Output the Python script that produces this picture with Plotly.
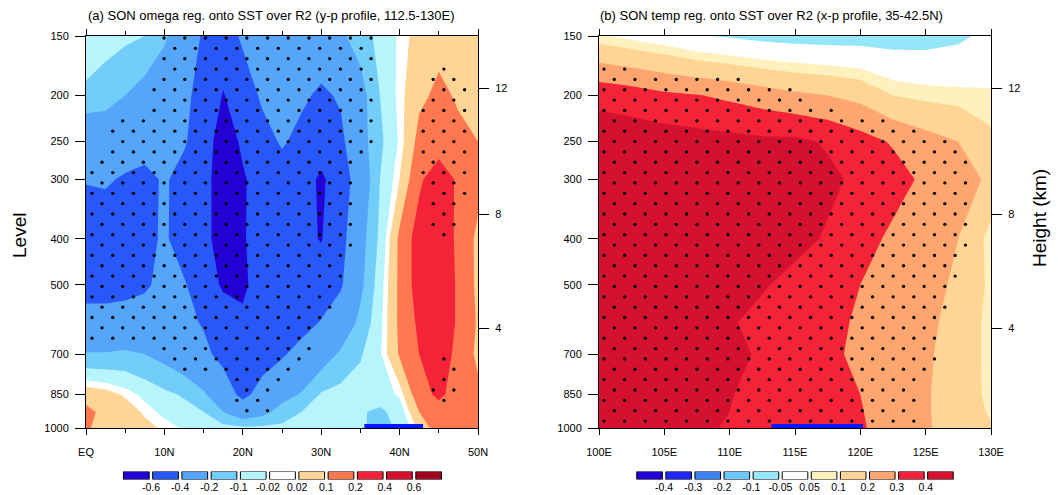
import numpy as np
import plotly.graph_objects as go

W, H = 1058, 495

# ---------------- data ----------------
pres = [1000, 925, 850, 700, 600, 500, 400, 300, 250, 200, 150]
lat = [0, 2.5, 5, 7.5, 10, 12.5, 15, 17.5, 20, 22.5, 25, 27.5, 30, 32.5, 35, 37.5, 40, 42.5, 45, 47.5, 50]
lon = [100, 102.5, 105, 107.5, 110, 112.5, 115, 117.5, 120, 122.5, 125, 127.5, 130]

# (a) omega regression, one list per level (EQ -> 50N)
om_1000 = [0.11, 0.07, 0.05, 0.04, 0.01, -0.03, -0.05, -0.07, -0.08, -0.08, -0.08, -0.08, -0.08, -0.08, -0.09, -0.12, -0.09, 0.04, 0.15, 0.15, 0.14]
om_925 = [0.12, 0.08, 0.06, 0.01, -0.04, -0.07, -0.10, -0.20, -0.30, -0.24, -0.15, -0.10, -0.08, -0.08, -0.09, -0.12, -0.06, 0.10, 0.16, 0.15, 0.13]
om_850 = [0.07, 0.05, 0.01, -0.04, -0.08, -0.11, -0.18, -0.32, -0.44, -0.34, -0.25, -0.19, -0.09, -0.07, -0.06, -0.05, -0.01, 0.16, 0.22, 0.16, 0.12]
om_700 = [-0.19, -0.19, -0.18, -0.20, -0.24, -0.30, -0.37, -0.44, -0.50, -0.47, -0.42, -0.34, -0.27, -0.18, -0.11, -0.03, 0.11, 0.20, 0.26, 0.17, 0.08]
om_600 = [-0.35, -0.34, -0.33, -0.33, -0.34, -0.37, -0.41, -0.52, -0.58, -0.55, -0.52, -0.46, -0.39, -0.30, -0.17, -0.04, 0.12, 0.22, 0.30, 0.18, 0.09]
om_500 = [-0.45, -0.46, -0.45, -0.42, -0.36, -0.38, -0.52, -0.62, -0.62, -0.55, -0.52, -0.50, -0.50, -0.42, -0.23, -0.05, 0.12, 0.25, 0.30, 0.18, 0.08]
om_400 = [-0.50, -0.50, -0.48, -0.46, -0.37, -0.50, -0.52, -0.72, -0.61, -0.55, -0.52, -0.55, -0.61, -0.46, -0.25, -0.08, 0.12, 0.25, 0.30, 0.17, 0.08]
om_300 = [-0.39, -0.38, -0.42, -0.45, -0.38, -0.46, -0.52, -0.72, -0.62, -0.52, -0.48, -0.52, -0.63, -0.50, -0.30, -0.10, 0.02, 0.18, 0.27, 0.18, 0.13]
om_250 = [-0.34, -0.32, -0.30, -0.32, -0.34, -0.38, -0.50, -0.70, -0.57, -0.47, -0.38, -0.45, -0.50, -0.44, -0.25, -0.12, -0.01, 0.13, 0.14, 0.12, 0.10]
om_200 = [-0.11, -0.14, -0.20, -0.25, -0.30, -0.37, -0.45, -0.61, -0.50, -0.37, -0.34, -0.37, -0.43, -0.38, -0.25, -0.10, 0.00, 0.08, 0.12, 0.09, 0.07]
om_150 = [-0.07, -0.07, -0.08, -0.10, -0.18, -0.30, -0.42, -0.50, -0.37, -0.32, -0.30, -0.30, -0.28, -0.22, -0.15, -0.07, -0.01, 0.05, 0.07, 0.07, 0.06]

# (a) significance (fraction, stippled where > 0.5)
sa_1000 = [1, 0, 0, 0, 0, 0, 0, 0, 0, 0, 0, 0, 0, 0, 0, 0, 0, 0, 0, 0, 0]
sa_925 = [0.3, 0, 0, 0, 0, 0, 0, 0.2, 0.7, 0.7, 0, 0, 0, 0, 0, 0, 0, 0, 0.3, 0.1, 0]
sa_850 = [0, 0, 0, 0, 0, 0, 0, 0.3, 1, 1, 0.1, 0, 0, 0, 0, 0, 0, 0, 0.9, 0.75, 0]
sa_700 = [0, 0, 0.1, 0.3, 0.6, 0.8, 1, 1, 1, 1, 1, 0.8, 0, 0, 0, 0, 0, 0, 0.5, 0.6, 0]
sa_600 = [1, 1, 1, 1, 1, 1, 1, 1, 1, 1, 1, 1, 0.7, 0, 0, 0, 0, 0, 0, 0, 0]
sa_500 = [1, 1, 1, 1, 1, 1, 1, 1, 1, 1, 1, 1, 1, 0.4, 0, 0, 0, 0, 0, 0, 0]
sa_400 = [1, 1, 1, 1, 1, 1, 1, 1, 1, 1, 1, 1, 1, 1, 0.2, 0, 0, 0.2, 0.6, 0.5, 0]
sa_300 = [0.7, 1, 1, 1, 1, 1, 1, 1, 1, 1, 1, 1, 1, 1, 0.4, 0, 0, 0.4, 1, 1, 0]
sa_250 = [0, 0.5, 1, 1, 1, 1, 1, 1, 1, 1, 1, 1, 1, 1, 1, 0.2, 0, 0.4, 1, 1, 0]
sa_200 = [0, 0, 0, 0.1, 1, 1, 1, 1, 1, 1, 1, 1, 1, 1, 1, 0.2, 0, 0.4, 1, 1, 0]
sa_150 = [0, 0, 0, 0, 0.6, 1, 1, 1, 1, 1, 1, 1, 1, 1, 1, 0.2, 0, 0, 0, 0, 0]

# (b) temperature regression, one list per level (100E -> 130E)
tb_1000 = [0.46, 0.46, 0.45, 0.42, 0.39, 0.37, 0.35, 0.33, 0.31, 0.26, 0.21, 0.16, 0.11]
tb_925 = [0.47, 0.47, 0.46, 0.43, 0.40, 0.37, 0.35, 0.33, 0.305, 0.26, 0.21, 0.15, 0.09]
tb_850 = [0.48, 0.48, 0.47, 0.44, 0.405, 0.37, 0.35, 0.33, 0.30, 0.26, 0.21, 0.15, 0.08]
tb_700 = [0.47, 0.47, 0.46, 0.44, 0.42, 0.39, 0.35, 0.32, 0.28, 0.25, 0.21, 0.17, 0.07]
tb_600 = [0.48, 0.48, 0.46, 0.43, 0.41, 0.37, 0.34, 0.32, 0.29, 0.25, 0.22, 0.17, 0.07]
tb_500 = [0.50, 0.50, 0.48, 0.46, 0.44, 0.41, 0.37, 0.33, 0.30, 0.26, 0.22, 0.19, 0.08]
tb_400 = [0.52, 0.52, 0.51, 0.50, 0.48, 0.45, 0.43, 0.39, 0.34, 0.28, 0.24, 0.20, 0.07]
tb_300 = [0.50, 0.50, 0.50, 0.49, 0.48, 0.47, 0.45, 0.42, 0.38, 0.34, 0.28, 0.27, 0.17]
tb_250 = [0.46, 0.46, 0.45, 0.44, 0.43, 0.42, 0.42, 0.39, 0.34, 0.29, 0.24, 0.20, 0.12]
tb_200 = [0.37, 0.35, 0.32, 0.305, 0.28, 0.25, 0.22, 0.20, 0.17, 0.10, 0.08, 0.07, 0.06]
tb_150 = [0.06, 0.03, 0.00, -0.04, -0.06, -0.08, -0.09, -0.095, -0.095, -0.095, -0.09, -0.07, -0.02]

# (b) significance
sb_1000 = [1, 1, 1, 1, 1, 1, 1, 1, 1, 1, 0.3, 0, 0]
sb_925 = [1, 1, 1, 1, 1, 1, 1, 1, 1, 1, 0.3, 0, 0]
sb_850 = [1, 1, 1, 1, 1, 1, 1, 1, 1, 1, 0.4, 0, 0]
sb_700 = [1, 1, 1, 1, 1, 1, 1, 1, 1, 1, 0.8, 0, 0]
sb_600 = [1, 1, 1, 1, 1, 1, 1, 1, 1, 1, 1, 0.2, 0]
sb_500 = [1, 1, 1, 1, 1, 1, 1, 1, 1, 1, 1, 0.5, 0]
sb_400 = [1, 1, 1, 1, 1, 1, 1, 1, 1, 1, 1, 0.7, 0]
sb_300 = [1, 1, 1, 1, 1, 1, 1, 1, 1, 1, 1, 1, 0]
sb_250 = [1, 1, 1, 1, 1, 1, 1, 1, 1, 0.9, 0.7, 0.4, 0.2]
sb_200 = [1, 0.9, 0.8, 0.75, 0.7, 0.65, 0.55, 0.4, 0.1, 0, 0, 0, 0]
sb_150 = [0, 0, 0, 0, 0, 0, 0, 0, 0, 0, 0, 0, 0]

levels_a = [-0.6, -0.4, -0.2, -0.1, -0.02, 0.02, 0.1, 0.2, 0.4, 0.6]
labels_a = ["-0.6", "-0.4", "-0.2", "-0.1", "-0.02", "0.02", "0.1", "0.2", "0.4", "0.6"]
levels_b = [-0.4, -0.3, -0.2, -0.1, -0.05, 0.05, 0.1, 0.2, 0.3, 0.4]
labels_b = ["-0.4", "-0.3", "-0.2", "-0.1", "-0.05", "0.05", "0.1", "0.2", "0.3", "0.4"]

colors_a = ["rgb(35,0,212)", "rgb(40,88,250)", "rgb(85,165,250)", "rgb(115,205,250)",
            "rgb(182,245,252)", "rgb(255,255,255)", "rgb(255,213,150)", "rgb(255,120,80)",
            "rgb(245,35,55)", "rgb(212,15,45)", "rgb(162,0,32)"]
colors_b = ["rgb(35,0,212)", "rgb(30,40,245)", "rgb(60,130,245)", "rgb(110,200,250)",
            "rgb(150,230,250)", "rgb(255,255,255)", "rgb(255,241,190)", "rgb(255,213,150)",
            "rgb(255,166,112)", "rgb(245,35,55)", "rgb(212,18,48)"]

lat_ticks = [0, 10, 20, 30, 40, 50]
lat_labels = ["EQ", "10N", "20N", "30N", "40N", "50N"]
lon_ticks = [100, 105, 110, 115, 120, 125, 130]
lon_labels = ["100E", "105E", "110E", "115E", "120E", "125E", "130E"]
p_ticks = [150, 200, 250, 300, 400, 500, 700, 850, 1000]
height_km = [4, 8, 12]

region_a = [35.5, 43.0]      # blue bar along bottom of (a)
region_b = [113.2, 120.2]    # blue bar along bottom of (b)

title_a = "(a) SON omega reg. onto SST over R2 (y-p profile, 112.5-130E)"
title_b = "(b) SON temp reg. onto SST over R2 (x-p profile, 35-42.5N)"

Z_a = np.array([om_1000, om_925, om_850, om_700, om_600, om_500, om_400, om_300, om_250, om_200, om_150])
S_a = np.array([sa_1000, sa_925, sa_850, sa_700, sa_600, sa_500, sa_400, sa_300, sa_250, sa_200, sa_150])
Z_b = np.array([tb_1000, tb_925, tb_850, tb_700, tb_600, tb_500, tb_400, tb_300, tb_250, tb_200, tb_150])
S_b = np.array([sb_1000, sb_925, sb_850, sb_700, sb_600, sb_500, sb_400, sb_300, sb_250, sb_200, sb_150])


def std_pressure(hkm):
    h = hkm * 1000.0
    if h <= 11000:
        return 1013.25 * (1 - 2.25577e-5 * h) ** 5.25588
    return 226.32 * np.exp(-(h - 11000) / 6341.62)


def interp_sig(xg, S, xq, pq):
    lnp = np.log(np.array(pres, float))[::-1]
    Sr = S[::-1, :]
    col = np.array([np.interp(xq, xg, row) for row in Sr])
    return np.interp(np.log(pq), lnp, col)


def stipple(xg, S, x0_even, x0_odd, dx):
    # fixed stipple texture (log-p rows), kept where significant
    lnp0 = np.log(150.0) + 0.0097
    dlnp = 0.0501
    xs, ys = [], []
    k = 0
    while lnp0 + k * dlnp <= np.log(1000.0):
        p = np.exp(lnp0 + k * dlnp)
        x = x0_even if k % 2 == 0 else x0_odd
        while x <= xg[-1]:
            if interp_sig(xg, S, x, p) > 0.5:
                xs.append(x)
                ys.append(p)
            x += dx
        k += 1
    return xs, ys


fig = go.Figure()


def add_panel(xg, Z, S, levels, colors, xa, ya, xe, xo, dx):
    zmin, zmax = float(Z.min()), float(Z.max())
    # colour of the band holding the field minimum is the base layer
    base = sum(1 for L in levels if L <= zmin)
    fig.add_shape(type="rect", xref=xa + " domain", yref=ya + " domain", x0=0, x1=1, y0=0, y1=1,
                  fillcolor=colors[base], line_width=0, layer="below")
    # plotly shades the region that violates the constraint: "< L" shades z >= L
    for i, L in enumerate(levels):
        if L <= zmin or L >= zmax:
            continue
        fig.add_trace(go.Contour(x=xg, y=pres, z=Z,
                                 contours=dict(type="constraint", operation="<", value=L),
                                 fillcolor=colors[i + 1], line=dict(width=0, smoothing=0),
                                 showscale=False, hoverinfo="skip", xaxis=xa, yaxis=ya))
    sx, sy = stipple(xg, S, xe, xo, dx)
    fig.add_trace(go.Scatter(x=sx, y=sy, mode="markers", marker=dict(size=3.3, color="black"),
                             hoverinfo="skip", xaxis=xa, yaxis=ya))


add_panel(lat, Z_a, S_a, levels_a, colors_a, "x", "y", 2.04, 0.77, 2.64)
add_panel(lon, Z_b, S_b, levels_b, colors_b, "x2", "y2", 101.17, 100.38, 1.581)

fig.add_trace(go.Scatter(x=region_a, y=[1000, 1000], mode="lines", line=dict(color="rgb(10,20,255)", width=8),
                         hoverinfo="skip", xaxis="x", yaxis="y"))
fig.add_trace(go.Scatter(x=region_b, y=[1000, 1000], mode="lines", line=dict(color="rgb(10,20,255)", width=8),
                         hoverinfo="skip", xaxis="x2", yaxis="y2"))

# placeholder traces so the height axes are drawn
fig.add_trace(go.Scatter(x=[None], y=[None], xaxis="x", yaxis="y3", hoverinfo="skip"))
fig.add_trace(go.Scatter(x=[None], y=[None], xaxis="x2", yaxis="y4", hoverinfo="skip"))

# label bars
for cols, xa, ya in [(colors_a, "x5", "y5"), (colors_b, "x6", "y6")]:
    fig.add_trace(go.Bar(x=list(range(len(cols))), y=[1] * len(cols), width=0.88,
                         marker=dict(color=cols, line=dict(color="black", width=1)),
                         hoverinfo="skip", xaxis=xa, yaxis=ya))

FONT = "Liberation Sans, Arial, Helvetica, sans-serif"
prange = [np.log10(1000), np.log10(150)]
h_p = [std_pressure(h) for h in height_km]
h_lbl = [str(h) for h in height_km]

ydom = [1 - 428 / H, 1 - 36 / H]
xdom_a = [86 / W, 478 / W]
xdom_b = [599 / W, 991 / W]

common_x = dict(showline=True, linecolor="black", linewidth=1, mirror="ticks", ticks="outside",
                ticklen=6, tickcolor="black", showgrid=False, zeroline=False, automargin=False,
                tickfont=dict(size=11), ticklabelstandoff=8)
common_y = dict(type="log", range=prange, showline=True, linecolor="black", linewidth=1, mirror=True,
                ticks="outside", ticklen=10, tickcolor="black", showgrid=False, zeroline=False,
                automargin=False, tickvals=p_ticks, ticktext=[str(p) for p in p_ticks],
                tickfont=dict(size=11), ticklabelstandoff=4)
common_h = dict(type="log", range=prange, showline=False, side="right", ticks="outside", ticklen=10,
                tickcolor="black", showgrid=False, zeroline=False, automargin=False, tickvals=h_p,
                ticktext=h_lbl, tickfont=dict(size=11), ticklabelstandoff=4)
common_cb = dict(range=[-0.5, 10.5], showline=False, showgrid=False, zeroline=False, ticks="",
                 automargin=False, tickvals=[i + 0.5 for i in range(10)], tickfont=dict(size=10.5),
                 ticklabelstandoff=0)

fig.update_layout(
    template="none",
    width=W, height=H, margin=dict(l=0, r=0, t=0, b=0, pad=0),
    paper_bgcolor="white", plot_bgcolor="white", showlegend=False,
    font=dict(family=FONT, color="black", size=11),
    xaxis=dict(domain=xdom_a, range=[0, 50], anchor="y", tickvals=lat_ticks, ticktext=lat_labels,
               minor=dict(tickvals=[5, 15, 25, 35, 45], ticks="outside", ticklen=4, tickcolor="black"),
               **common_x),
    yaxis=dict(domain=ydom, anchor="x", **common_y),
    xaxis2=dict(domain=xdom_b, range=[100, 130], anchor="y2", tickvals=lon_ticks, ticktext=lon_labels,
                **common_x),
    yaxis2=dict(domain=ydom, anchor="x2", **common_y),
    yaxis3=dict(overlaying="y", anchor="x", **common_h),
    yaxis4=dict(overlaying="y2", anchor="x2", **common_h),
    xaxis5=dict(domain=[121.7 / W, 443.3 / W], anchor="y5", ticktext=labels_a, **common_cb),
    yaxis5=dict(domain=[1 - 479.5 / H, 1 - 471.5 / H], anchor="x5", range=[0, 1], visible=False,
                automargin=False),
    xaxis6=dict(domain=[635 / W, 955 / W], anchor="y6", ticktext=labels_b, **common_cb),
    yaxis6=dict(domain=[1 - 479.5 / H, 1 - 471.5 / H], anchor="x6", range=[0, 1], visible=False,
                automargin=False),
    annotations=[
        dict(text=title_a, xref="paper", yref="paper", x=86 / W, y=1 - 16 / H, xanchor="left",
             yanchor="middle", showarrow=False, font=dict(size=13)),
        dict(text=title_b, xref="paper", yref="paper", x=598 / W, y=1 - 16 / H, xanchor="left",
             yanchor="middle", showarrow=False, font=dict(size=13)),
        dict(text="Level", xref="paper", yref="paper", x=20 / W, y=1 - 236 / H, xanchor="center",
             yanchor="middle", showarrow=False, textangle=-90, font=dict(size=19)),
        dict(text="Height (km)", xref="paper", yref="paper", x=1040 / W, y=1 - 218 / H, xanchor="center",
             yanchor="middle", showarrow=False, textangle=-90, font=dict(size=19)),
    ],
)

fig.write_html("out.html",
               config={"displayModeBar": False, "staticPlot": True},
               post_script="document.body.style.margin='0px';document.body.style.overflow='hidden';")
